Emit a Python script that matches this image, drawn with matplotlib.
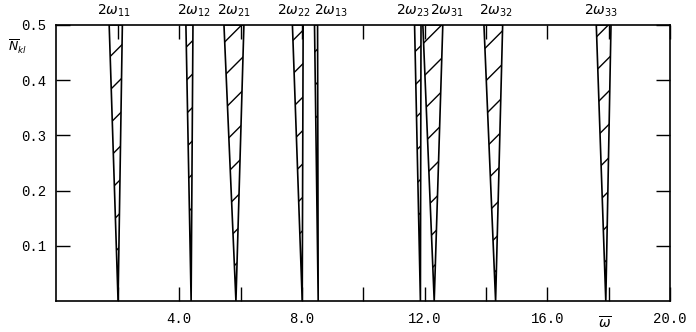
import numpy as np
import matplotlib.pyplot as plt

# instability regions: name, tip at N=0, left / right edge at N=0.5
names = ['11', '12', '21', '22', '13', '23', '31', '32', '33']
tip = [2.01, 4.39, 5.85, 8.01, 8.53, 11.86, 12.31, 14.31, 17.90]
left_top = [1.72, 4.22, 5.46, 7.69, 8.41, 11.67, 11.94, 13.93, 17.59]
right_top = [2.15, 4.45, 6.11, 8.04, 8.51, 11.88, 12.59, 14.54, 18.07]
label_x = [1.88, 4.48, 5.78, 7.73, 8.96, 11.61, 12.74, 14.32, 17.76]

N_top = 0.5
xticks = [4, 8, 12, 16, 20]
xminor = [2, 6, 10, 14, 18]
yticks = [0.1, 0.2, 0.3, 0.4, 0.5]

mono = 'Liberation Mono'

fig = plt.figure(figsize=(6.96, 3.32), dpi=100)
ax = fig.add_axes([0.081, 0.093, 0.882, 0.832])

for t, l, r in zip(tip, left_top, right_top):
    ax.fill([t, l, r], [0, N_top, N_top], facecolor='white',
            edgecolor='black', hatch='/', linewidth=1.2)

for x, n in zip(label_x, names):
    ax.text(x, 1.02, r'$2\omega_{%s}$' % n, transform=ax.get_xaxis_transform(),
            ha='center', va='bottom', fontsize=10)

ax.set_xlim(0, 20)
ax.set_ylim(0, 0.5)
ax.set_xticks(xticks)
ax.set_xticks(xminor, minor=True)
ax.set_xticklabels(['%.1f' % v for v in xticks], family=mono, fontsize=10)
ax.set_yticks(yticks)
ax.set_yticklabels(['%.1f' % v for v in yticks], family=mono, fontsize=10)
ax.tick_params(axis='both', which='both', direction='in', top=True, right=True,
               length=10, width=1.0)
ax.tick_params(axis='x', pad=8)
ax.tick_params(axis='y', pad=7)
for s in ax.spines.values():
    s.set_linewidth(1.2)

ax.text(-0.079, 0.92, r'$\overline{N}_{kl}$', transform=ax.transAxes,
        ha='left', va='center', fontsize=9)
ax.text(17.87, -0.05, r'$\overline{\omega}$', transform=ax.get_xaxis_transform(),
        ha='center', va='top', fontsize=10)

fig.savefig('out.png', dpi=100)
